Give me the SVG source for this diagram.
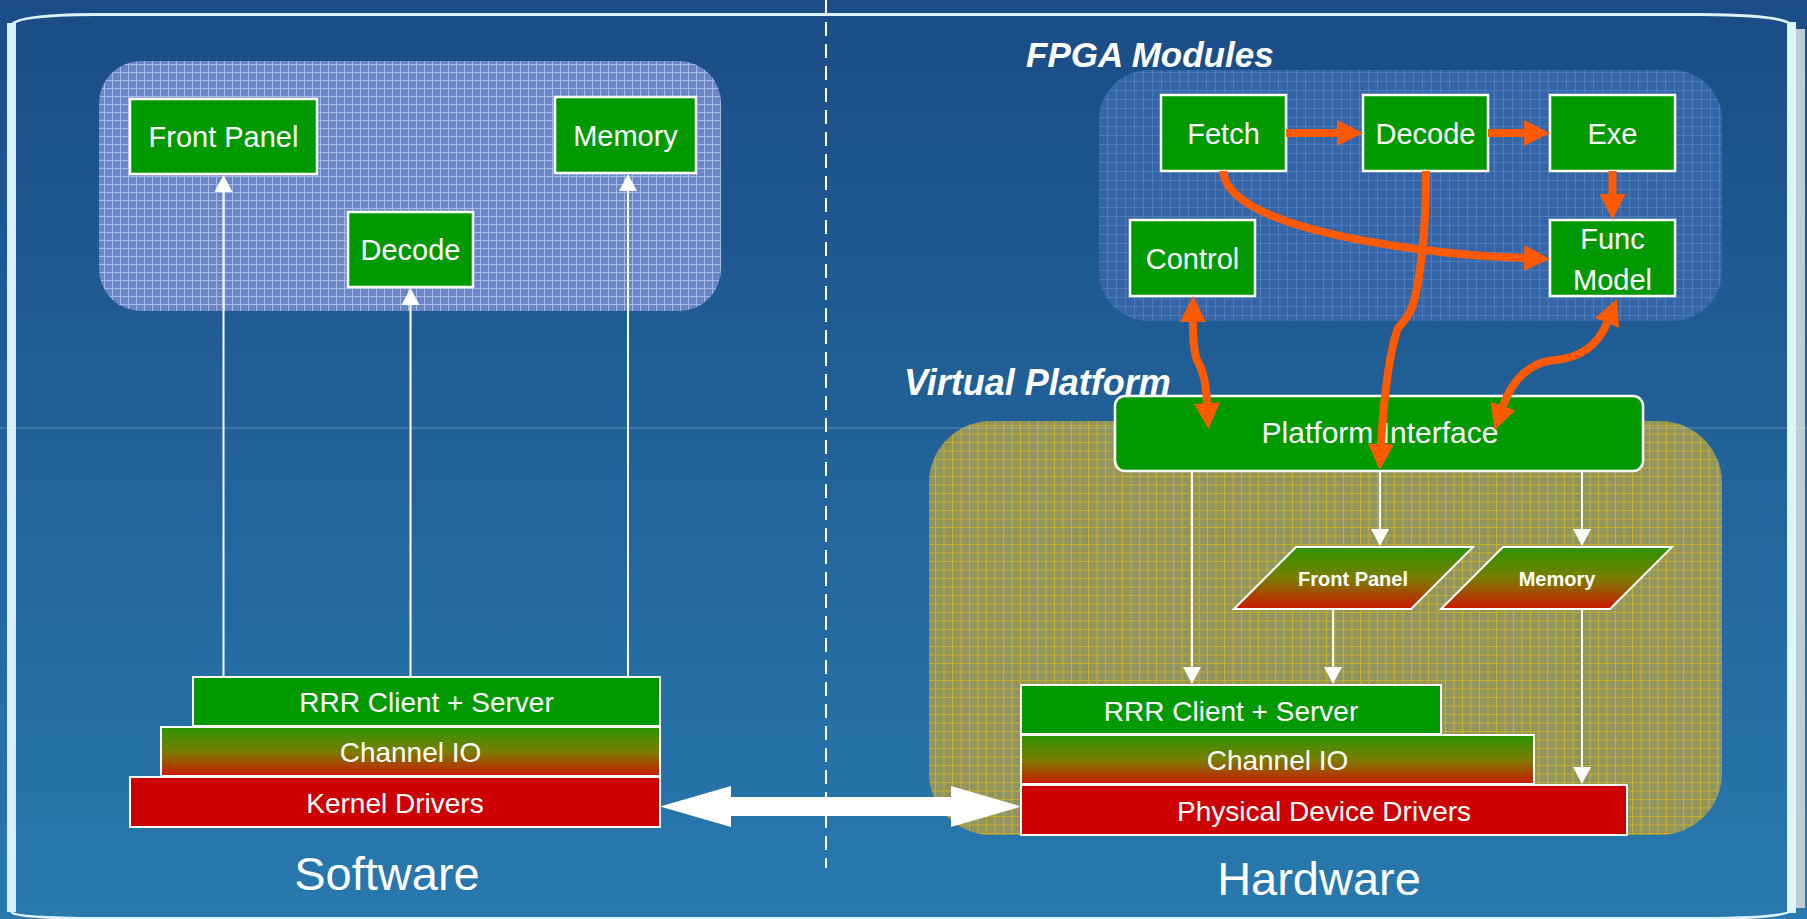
<svg xmlns="http://www.w3.org/2000/svg" width="1807" height="919" viewBox="0 0 1807 919">
  <defs>
    <linearGradient id="bg" x1="0" y1="0" x2="0" y2="1">
      <stop offset="0" stop-color="#1b4c85"/>
      <stop offset="1" stop-color="#2879ae"/>
    </linearGradient>
    <linearGradient id="greenToRed" x1="0" y1="0" x2="0" y2="1">
      <stop offset="0" stop-color="#2a9400"/>
      <stop offset="0.5" stop-color="#7a7e00"/>
      <stop offset="1" stop-color="#cc1800"/>
    </linearGradient>
    <pattern id="gridLilac" width="8" height="8" patternUnits="userSpaceOnUse">
      <rect width="8" height="8" fill="#6a86c6"/>
      <path d="M0,0.5 H8 M0.5,0 V8" stroke="#a8bae6" stroke-width="1"/>
    </pattern>
    <pattern id="gridBlue" width="9" height="9" patternUnits="userSpaceOnUse">
      <rect width="9" height="9" fill="#3665a7"/>
      <path d="M0,0.5 H9 M0.5,0 V9" stroke="#4d7cbd" stroke-width="1"/>
    </pattern>
    <pattern id="gridGold" width="8.5" height="8.5" patternUnits="userSpaceOnUse">
      <rect width="8.5" height="8.5" fill="#90955f"/>
      <path d="M0,0.5 H8.5 M0.5,0 V8.5" stroke="#d2b423" stroke-width="1" stroke-opacity="0.85"/>
    </pattern>
    <marker id="whiteHead" viewBox="0 0 17 18" markerWidth="17" markerHeight="18" refX="0" refY="9" orient="auto" markerUnits="userSpaceOnUse">
      <path d="M0,0 L17,9 L0,18 z" fill="#ffffff"/>
    </marker>
    <marker id="orangeHead" viewBox="0 0 26 26" markerWidth="26" markerHeight="26" refX="0" refY="13" orient="auto-start-reverse" markerUnits="userSpaceOnUse">
      <path d="M0,0 L26,13 L0,26 z" fill="#ff5a00"/>
    </marker>
    <style>
      .box { fill: #009900; stroke: #ffffff; stroke-width: 2.5; }
      .bar { stroke: #ffffff; stroke-width: 2; }
      .lbl { font-family: "Liberation Sans", Arial, sans-serif; fill: #ffffff; text-anchor: middle; }
      .big { font-size: 29px; }
      .mid { font-size: 28px; }
      .para { font-size: 20px; font-weight: bold; }
      .title { font-family: "Liberation Sans", Arial, sans-serif; fill: #ffffff; font-weight: bold; font-style: italic; }
      .side { font-size: 47px; }
      .wire { fill: none; stroke: #ffffff; stroke-width: 2; marker-end: url(#whiteHead); }
      .flow { fill: none; stroke: #ff5a00; stroke-width: 8; }
      .one { marker-end: url(#orangeHead); }
      .two { marker-start: url(#orangeHead); marker-end: url(#orangeHead); }
    </style>
  </defs>

  <!-- backdrop -->
  <rect x="0" y="0" width="1807" height="919" fill="url(#bg)"/>

  <!-- slide frame -->
  <g id="frame">
    <path d="M11.5,912 L11.5,26 Q13,15 95,14.5 L1700,14.5 Q1788,15 1791.5,26 L1791.5,910 Q1788,918 1700,918.5 L100,918.5 Q14,918 11.5,912" fill="none" stroke="#dcf2fc" stroke-width="3"/>
    <rect x="7" y="23" width="9" height="889" fill="#d8effa"/>
    <rect x="1796" y="29" width="9" height="879" fill="#bdcdd6"/>
    <rect x="1787" y="22" width="9" height="891" fill="#def4fd"/>
  </g>

  <!-- software / hardware divider -->
  <line x1="826" y1="0" x2="826" y2="868" stroke="#ffffff" stroke-width="2" stroke-dasharray="14 8"/>

  <!-- grouping panels -->
  <g id="software-panel">
    <rect x="99" y="61" width="622" height="250" rx="42" fill="url(#gridLilac)"/>
  </g>
  <g id="fpga-panel">
    <rect x="1099" y="70" width="623" height="251" rx="50" fill="url(#gridBlue)"/>
    <text class="title" x="1026" y="67" font-size="35">FPGA Modules</text>
  </g>
  <g id="virtual-platform-panel">
    <rect x="929" y="421" width="793" height="414" rx="62" fill="url(#gridGold)"/>
    <text class="title" x="904" y="395" font-size="36">Virtual Platform</text>
  </g>

  <line x1="0" y1="428" x2="1807" y2="428" stroke="#ffffff" stroke-opacity="0.28" stroke-width="1"/>

  <!-- side captions -->
  <text class="lbl side" x="387" y="890">Software</text>
  <text class="lbl side" x="1319" y="895">Hardware</text>

  <!-- software side nodes -->
  <g id="sw-front-panel">
    <rect class="box" x="130" y="99" width="187" height="75"/>
    <text class="lbl big" x="223.5" y="147">Front Panel</text>
  </g>
  <g id="sw-memory">
    <rect class="box" x="555" y="97" width="141" height="76"/>
    <text class="lbl big" x="625.5" y="146">Memory</text>
  </g>
  <g id="sw-decode">
    <rect class="box" x="348" y="212" width="125" height="75"/>
    <text class="lbl big" x="410.5" y="260">Decode</text>
  </g>
  <g id="sw-rrr">
    <rect class="bar" x="193" y="677" width="467" height="49" fill="#009900"/>
    <text class="lbl mid" x="426.5" y="712">RRR Client + Server</text>
  </g>
  <g id="sw-channel-io">
    <rect class="bar" x="161" y="727" width="499" height="49" fill="url(#greenToRed)"/>
    <text class="lbl mid" x="410.5" y="762">Channel IO</text>
  </g>
  <g id="sw-kernel-drivers">
    <rect class="bar" x="130" y="777" width="530" height="50" fill="#cc0000"/>
    <text class="lbl mid" x="395" y="813">Kernel Drivers</text>
  </g>

  <!-- FPGA modules -->
  <g id="fetch">
    <rect class="box" x="1161" y="95" width="125" height="76"/>
    <text class="lbl big" x="1223.5" y="144">Fetch</text>
  </g>
  <g id="decode">
    <rect class="box" x="1363" y="95" width="125" height="76"/>
    <text class="lbl big" x="1425.5" y="144">Decode</text>
  </g>
  <g id="exe">
    <rect class="box" x="1550" y="95" width="125" height="76"/>
    <text class="lbl big" x="1612.5" y="144">Exe</text>
  </g>
  <g id="control">
    <rect class="box" x="1130" y="220" width="125" height="76"/>
    <text class="lbl big" x="1192.5" y="269">Control</text>
  </g>
  <g id="func-model">
    <rect class="box" x="1550" y="220" width="125" height="76"/>
    <text class="lbl big" x="1612.5" y="249">Func</text>
    <text class="lbl big" x="1612.5" y="290">Model</text>
  </g>

  <!-- virtual platform -->
  <g id="platform-interface">
    <rect class="box" x="1115" y="396" width="528" height="75" rx="10"/>
    <text class="lbl" x="1380" y="443" font-size="30">Platform Interface</text>
  </g>
  <g id="hw-front-panel">
    <polygon class="bar" points="1296,547 1473,547 1411,609 1234,609" fill="url(#greenToRed)"/>
    <text class="lbl para" x="1353" y="586">Front Panel</text>
  </g>
  <g id="hw-memory">
    <polygon class="bar" points="1503,547 1672,547 1610,609 1441,609" fill="url(#greenToRed)"/>
    <text class="lbl para" x="1557" y="586">Memory</text>
  </g>
  <g id="hw-rrr">
    <rect class="bar" x="1021" y="685" width="420" height="49" fill="#009900"/>
    <text class="lbl mid" x="1231" y="721">RRR Client + Server</text>
  </g>
  <g id="hw-channel-io">
    <rect class="bar" x="1021" y="735" width="513" height="49" fill="url(#greenToRed)"/>
    <text class="lbl mid" x="1277.5" y="770">Channel IO</text>
  </g>
  <g id="hw-physical-drivers">
    <rect class="bar" x="1021" y="785" width="606" height="50" fill="#cc0000"/>
    <text class="lbl mid" x="1324" y="821">Physical Device Drivers</text>
  </g>

  <!-- connectors -->
  <g id="connectors">
    <!-- software side: RRR up to the modules -->
    <path class="wire" d="M223.5,676 V192"/>
    <path class="wire" d="M410.5,676 V305"/>
    <path class="wire" d="M628,676 V191"/>

    <!-- hardware side: platform interface down the stack -->
    <path class="wire" d="M1192,472 V667"/>
    <path class="wire" d="M1380,472 V529"/>
    <path class="wire" d="M1582,472 V529"/>
    <path class="wire" d="M1333,610 V667"/>
    <path class="wire" d="M1582,610 V767"/>

    <!-- physical link between the two sides -->
    <polygon points="660,806.5 731,786 731,797 951,797 951,786 1021,806.5 951,827 951,816 731,816 731,827" fill="#ffffff"/>

    <!-- FPGA pipeline -->
    <path class="flow one" d="M1286,133 H1337"/>
    <path class="flow one" d="M1488,133 H1524"/>
    <path class="flow one" d="M1612.5,171 V194"/>
    <path class="flow one" d="M1223,171 C1226,205 1290,232 1417,249 C1460,255 1495,257 1524,258"/>
    <path class="flow one" d="M1426,171 C1426,230 1420,290 1410,312 Q1404,322 1398,328 C1390,350 1383,400 1381,444"/>
    <path class="flow two" d="M1193,322 C1193,340 1194,352 1197,360 C1204,372 1206,385 1207,403"/>
    <path class="flow two" d="M1607,323 C1598,345 1580,358 1555,360 C1530,362 1512,380 1503,406"/>
  </g>
</svg>
